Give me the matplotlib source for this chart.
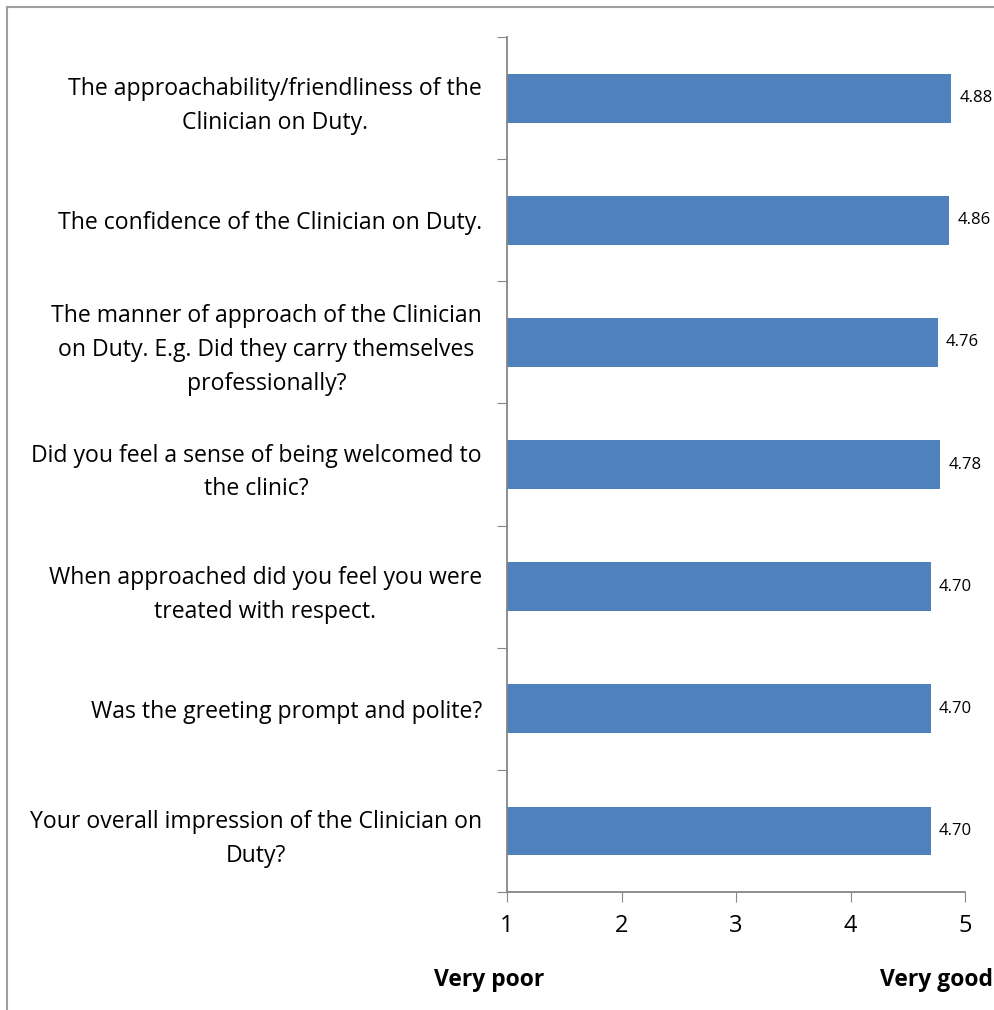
import numpy as np
import matplotlib.pyplot as plt
from matplotlib.lines import Line2D

questions = [
    "The approachability/friendliness of the\nClinician on Duty.",
    "The confidence of the Clinician on Duty.",
    "The manner of approach of the Clinician\non Duty. E.g. Did they carry themselves\nprofessionally?",
    "Did you feel a sense of being welcomed to\nthe clinic?",
    "When approached did you feel you were\ntreated with respect.",
    "Was the greeting prompt and polite?",
    "Your overall impression of the Clinician on\nDuty?",
]
scores = [4.88, 4.86, 4.76, 4.78, 4.70, 4.70, 4.70]
xticks = [1, 2, 3, 4, 5]

plt.rcParams['font.family'] = ['Open Sans', 'DejaVu Sans']
grey = '#868686'

fig = plt.figure(figsize=(9.94, 10.1), dpi=100)
ax = fig.add_axes([507/994, 118/1010, 458/994, 855/1010])

n = len(questions)
pos = np.arange(n)
ax.barh(pos, np.array(scores) - 1, left=1, height=0.4, color='#4F81BD')
ax.set_ylim(n - 0.5, -0.5)
ax.set_xlim(1, 5)

for p, s in zip(pos, scores):
    ax.annotate(f"{s:.2f}", (s, p), xytext=(6, 0), textcoords='offset points',
                va='center', ha='left', fontsize=12)

# category ticks between bars, Excel style
ax.set_yticks(np.arange(n + 1) - 0.5)
ax.set_yticklabels([])
ax.set_yticks(pos, minor=True)
ax.set_yticklabels(questions, minor=True, fontsize=16.6, ha='right',
                   multialignment='center', linespacing=1.55)
ax.tick_params(axis='y', which='major', length=7, color=grey, direction='out')
ax.tick_params(axis='y', which='minor', length=0, pad=18)

ax.set_xticks(xticks)
ax.set_xticklabels([str(t) for t in xticks], fontsize=17)
ax.tick_params(axis='x', length=7, color=grey, pad=9)

for side in ['top', 'right']:
    ax.spines[side].set_visible(False)
for side in ['left', 'bottom']:
    ax.spines[side].set_color(grey)
    ax.spines[side].set_linewidth(1.3)

fig.text(489/994, 30/1010, "Very poor", ha='center', va='center',
         fontsize=16.5, fontweight='bold')
fig.text(993/994, 30/1010, "Very good", ha='right', va='center',
         fontsize=16.5, fontweight='bold')

# outer chart frame (only left and top visible)
fig.add_artist(Line2D([7/994, 7/994], [0, 1 - 7/1010], color='#a0a0a0', lw=1.5))
fig.add_artist(Line2D([7/994, 1], [1 - 7/1010, 1 - 7/1010], color='#a0a0a0', lw=1.5))

fig.savefig('out.png', dpi=100)
